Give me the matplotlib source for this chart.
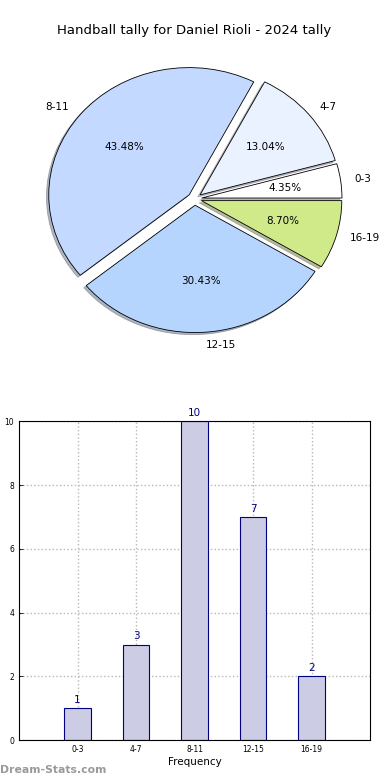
import matplotlib
matplotlib.use("Agg")
import matplotlib.pyplot as plt

categories = ["0-3", "4-7", "8-11", "12-15", "16-19"]
counts = [1, 3, 10, 7, 2]
pie_colors = ["#FFFFFF", "#EAF1FF", "#C4D9FF", "#B5D5FF", "#D0EA8A"]
explode = [0.05, 0.05, 0.05, 0.05, 0.05]
title = "Handball tally for Daniel Rioli - 2024 tally"
y_label = "Goals per match"
x_label = "Frequency"
y_ticks = [0, 2, 4, 6, 8, 10]

plt.rcParams['font.family'] = ['DejaVu Sans']
fig = plt.figure(figsize=(3.9, 7.8), dpi=100)
ax1 = fig.add_axes([0.049, 0.541, 0.9, 0.408])
ax2 = fig.add_axes([0.049, 0.051, 0.9, 0.409])

wedges, texts, autotexts = ax1.pie(
    counts, labels=categories, colors=pie_colors, explode=explode,
    autopct="%1.2f%%", shadow={'ox': -0.012, 'oy': -0.012, 'shade': 0.5}, startangle=0,
    wedgeprops=dict(edgecolor="black", linewidth=0.6),
    textprops=dict(fontsize=7.5))
ax1.set_aspect('auto')
ax1.set_xlim(-1.25, 1.25)
ax1.set_ylim(-1.25, 1.25)
ax1.set_title(title, fontsize=9.5, pad=4)

x = list(range(len(categories)))
bars = ax2.bar(x, counts, width=0.45, color="#CCCCE4", edgecolor="#000080", linewidth=0.8, zorder=2)
for xi, v in zip(x, counts):
    ax2.text(xi, v + 0.1, str(v), ha="center", va="bottom", color="#000080", fontsize=7.5)
ax2.set_xlim(-1, 5)
ax2.set_ylim(0, 10)
ax2.set_xticks(x)
ax2.set_xticklabels(categories, fontsize=5.5)
ax2.set_yticks(y_ticks)
ax2.tick_params(axis='y', labelsize=5.5)
ax2.tick_params(direction='in', length=3, width=0.6)
ax2.grid(True, linestyle=':', color='#B8B8B8', linewidth=1.0, zorder=0)
ax2.set_axisbelow(True)
ax2.set_xlabel(x_label, fontsize=7.5, labelpad=2)
ax2.set_ylabel(y_label, fontsize=7.5)
ax2.yaxis.set_label_coords(-0.052, 0.5)
for s in ax2.spines.values():
    s.set_linewidth(0.8)

fig.text(0.0, 0.006, "Dream-Stats.com", fontsize=7.8, color="#9A9A9A", fontweight="bold", ha="left", va="bottom")

fig.savefig("out.png", dpi=100)
